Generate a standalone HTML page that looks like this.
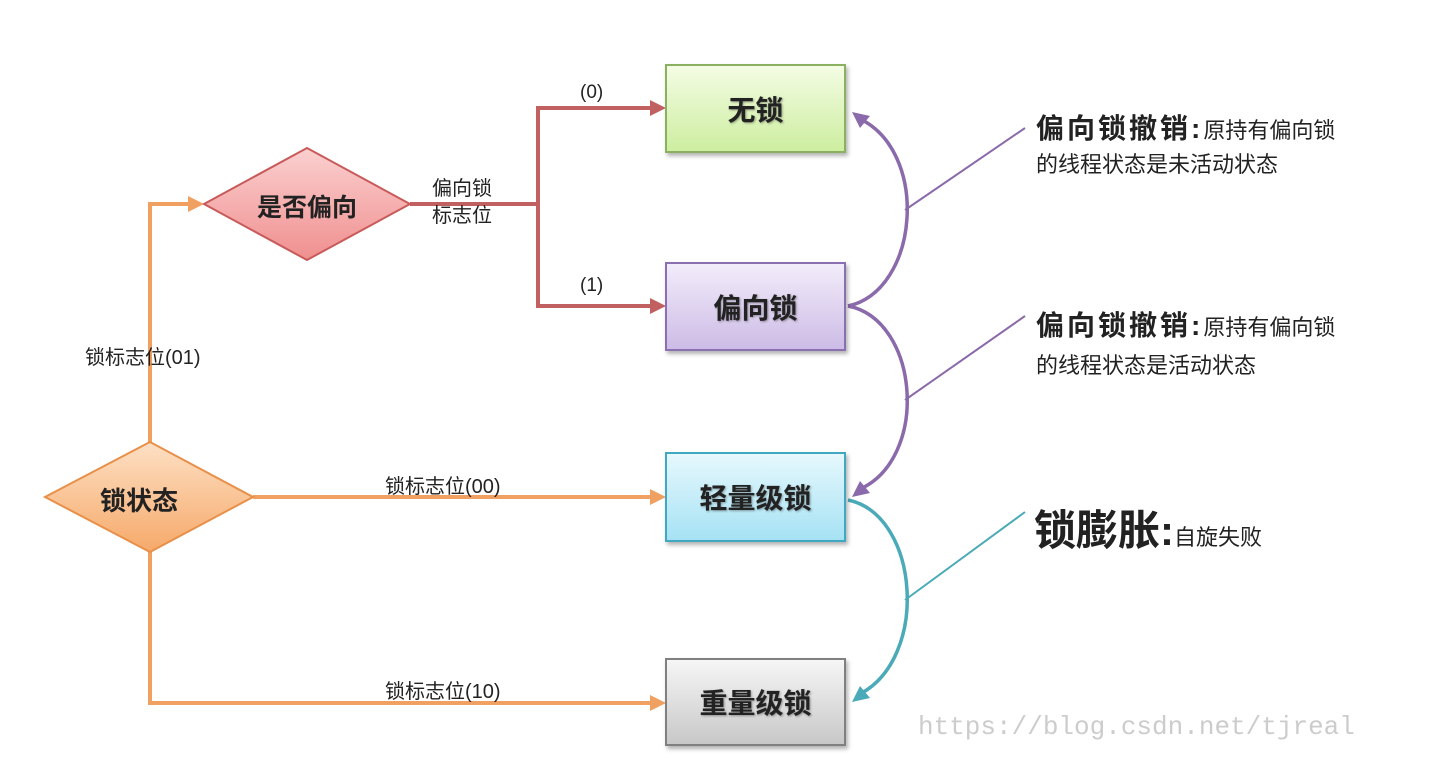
<!DOCTYPE html>
<html><head><meta charset="utf-8"><style>
body{margin:0;background:#fff;width:1432px;height:768px;overflow:hidden;position:relative;font-family:"Liberation Sans","Noto Sans CJK SC",sans-serif}
.box{position:absolute;left:665px;width:181px;border:2px solid;box-sizing:border-box;display:flex;align-items:center;justify-content:center;font-weight:bold;font-size:28px;color:#222;box-shadow:2px 3px 4px rgba(0,0,0,.3);text-shadow:1px 1px 2px rgba(0,0,0,.35)}
.t{position:absolute;color:#222;white-space:nowrap}
</style></head><body>
<svg width="1432" height="768" style="position:absolute;left:0;top:0">
<defs>
<linearGradient id="gr" x1="0" y1="0" x2="0" y2="1"><stop offset="0" stop-color="#fbd0d0"/><stop offset="1" stop-color="#f08f8f"/></linearGradient>
<linearGradient id="go" x1="0" y1="0" x2="0" y2="1"><stop offset="0" stop-color="#fde0c4"/><stop offset="1" stop-color="#f6a96a"/></linearGradient>
</defs>
<g stroke="#f0a060" stroke-width="4" fill="none">
<polyline points="150,442 150,204 190,204"/>
<line x1="253" y1="497" x2="652" y2="497"/>
<polyline points="150,552 150,703 652,703"/>
</g>
<g fill="#f0a060">
<polygon points="204,204 188,196 188,212"/>
<polygon points="666,497 650,489 650,505"/>
<polygon points="666,703 650,695 650,711"/>
</g>
<g stroke="#c06060" stroke-width="4" fill="none">
<line x1="410" y1="204" x2="538" y2="204"/>
<polyline points="652,108 538,108 538,306 652,306"/>
</g>
<g fill="#c06060">
<polygon points="666,108 650,100 650,116"/>
<polygon points="666,306 650,298 650,314"/>
</g>
<polygon points="307,148 410,204 307,260 204,204" fill="url(#gr)" stroke="#c85a5a" stroke-width="2"/>
<polygon points="150,442 253,497 150,552 45,497" fill="url(#go)" stroke="#e8904a" stroke-width="2"/>
<g stroke="#8a6aaa" stroke-width="3.5" fill="none">
<path d="M848,306 C920,290 930,150 858,118"/>
<path d="M848,306 C920,320 930,460 858,490"/>
<line x1="905" y1="210" x2="1025" y2="128" stroke-width="2"/>
<line x1="905" y1="400" x2="1025" y2="316" stroke-width="2"/>
</g>
<g fill="#8a6aaa">
<polygon points="852,112 870,116 860,128"/>
<polygon points="852,497 860,481 870,493"/>
</g>
<g stroke="#4aaab8" stroke-width="3.5" fill="none">
<path d="M848,500 C920,515 930,660 858,695"/>
<line x1="905" y1="600" x2="1025" y2="512" stroke-width="2"/>
</g>
<polygon points="852,702 860,686 870,698" fill="#4aaab8"/>
</svg>
<div class="box" style="top:64px;height:89px;border-color:#8ab060;background:linear-gradient(#f4fce4,#cdeea0)">无锁</div>
<div class="box" style="top:262px;height:89px;border-color:#8a70b0;background:linear-gradient(#f2ecfa,#cdbce6)">偏向锁</div>
<div class="box" style="top:452px;height:90px;border-color:#40a8c0;background:linear-gradient(#e6f8fd,#a6e2f4)">轻量级锁</div>
<div class="box" style="top:658px;height:88px;border-color:#808080;background:linear-gradient(#f6f6f6,#c8c8c8)">重量级锁</div>
<div class="t" style="left:257px;top:188px;font-size:25px;font-weight:bold">是否偏向</div>
<div class="t" style="left:100px;top:481px;font-size:26px;font-weight:bold">锁状态</div>
<div class="t" style="left:432px;top:176px;font-size:20px;line-height:27px">偏向锁<br>标志位</div>
<div class="t" style="left:580px;top:82px;font-size:19px">(0)</div>
<div class="t" style="left:580px;top:275px;font-size:19px">(1)</div>
<div class="t" style="left:85px;top:341px;font-size:20px">锁标志位(01)</div>
<div class="t" style="left:385px;top:470px;font-size:20px">锁标志位(00)</div>
<div class="t" style="left:385px;top:675px;font-size:20px">锁标志位(10)</div>
<div class="t" style="left:1036px;top:112px;font-size:22px;line-height:34px"><b style="font-size:28px;letter-spacing:3px">偏向锁撤销:</b>原持有偏向锁<br>的线程状态是未活动状态</div>
<div class="t" style="left:1036px;top:307px;font-size:22px;line-height:38px"><b style="font-size:28px;letter-spacing:3px">偏向锁撤销:</b>原持有偏向锁<br>的线程状态是活动状态</div>
<div class="t" style="left:1034px;top:497px;font-size:22px"><b style="font-size:42px">锁膨胀:</b>自旋失败</div>
<div class="t" style="left:918px;top:712px;font-size:26px;color:#ccc;font-family:'Liberation Mono',monospace">https://blog.csdn.net/tjreal</div>
</body></html>
